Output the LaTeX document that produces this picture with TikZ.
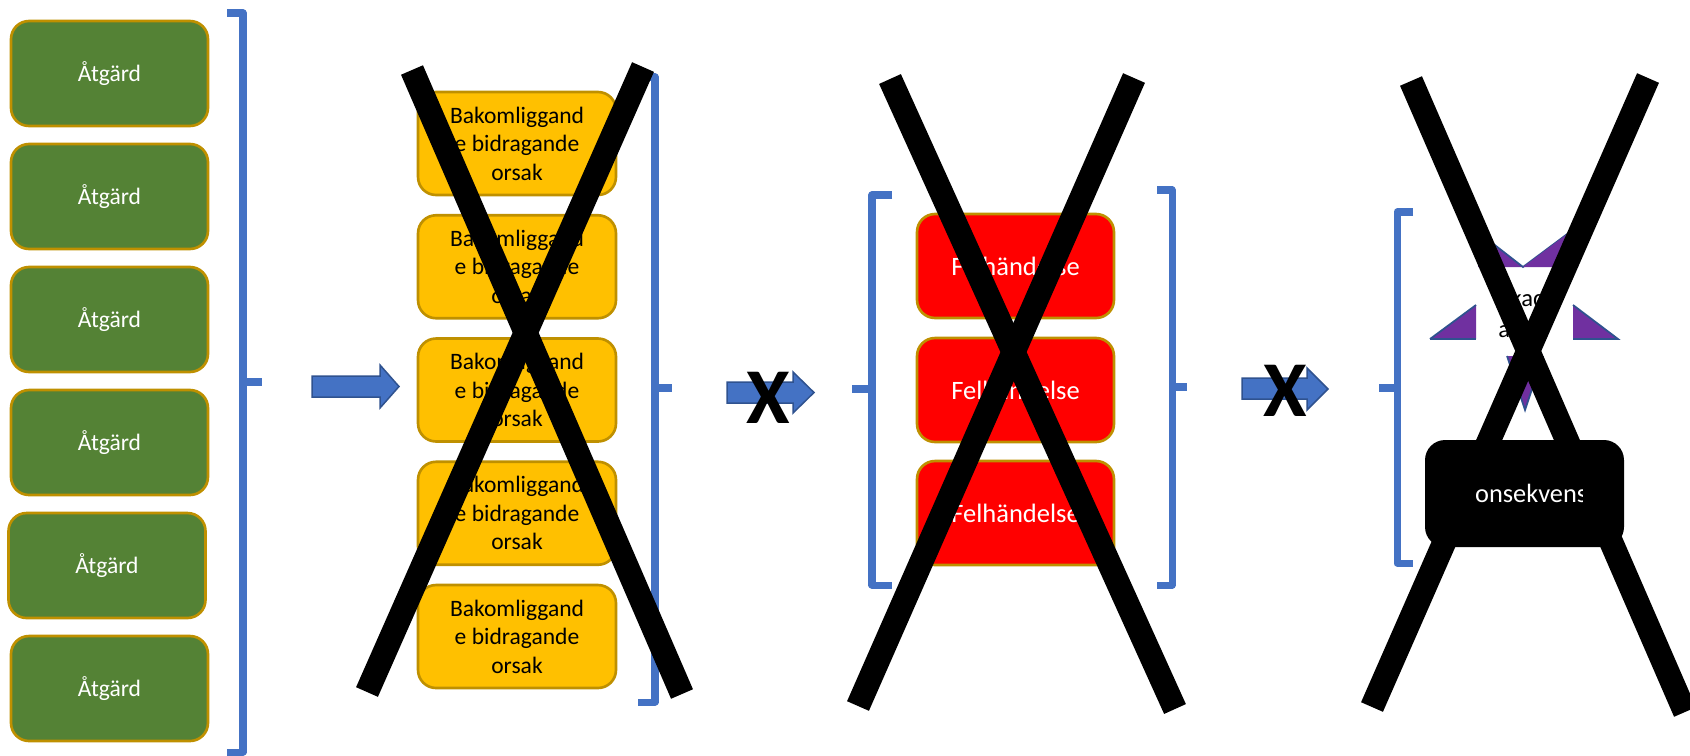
\documentclass[tikz,border=0pt]{standalone}
\usepackage{fontspec}
\setmainfont{Carlito}
\begin{document}
\definecolor{leafgreen}{HTML}{548235}
\definecolor{goldline}{HTML}{BF9000}
\definecolor{ambery}{HTML}{FFC000}
\definecolor{alarmred}{HTML}{FF0000}
\definecolor{brblue}{HTML}{4472C4}
\definecolor{brbluedark}{HTML}{2F528F}
\definecolor{violet}{HTML}{7030A0}
\begin{tikzpicture}[x=0.02cm,y=-0.02cm,
  basebox/.style={rectangle,rounded corners=0.36cm,line width=1.5pt,draw=goldline,
    inner sep=0pt,align=center},
  gbox/.style={basebox,fill=leafgreen,text=white,minimum width=3.94cm,minimum height=2.1cm,
    font=\fontsize{13.4}{16}\selectfont},
  ybox/.style={basebox,fill=ambery,text=black,minimum width=3.96cm,minimum height=2.06cm,
    font=\fontsize{13.4}{16.2}\selectfont},
  rbox/.style={basebox,fill=alarmred,text=white,minimum width=3.94cm,minimum height=2.08cm,
    font=\fontsize{15.1}{18}\selectfont},
  brace/.style={draw=brblue,line width=4pt,line join=round},
  barrow/.style={fill=brblue,draw=brbluedark,line width=0.85pt,line join=miter},
  cross/.style={draw=black,line width=13.6pt},
  xmark/.style={inner sep=0pt,font=\fontsize{45}{45}\selectfont\bfseries},
  tri/.style={fill=violet},
  triedge/.style={draw=brbluedark,line width=1pt},
  dmg/.style={anchor=base west,inner sep=0pt,font=\fontsize{14}{18}\selectfont}]
\useasboundingbox (0,0) rectangle (1690,755);

% --- actions (green column) ---
\node[gbox] (a1) at (109.5,73.5) {Åtgärd};
\node[gbox] (a2) at (109.5,196.5) {Åtgärd};
\node[gbox] (a3) at (109.5,319.5) {Åtgärd};
\node[gbox] (a4) at (109.5,442.5) {Åtgärd};
\node[gbox] (a5) at (107,565.5) {Åtgärd};
\node[gbox] (a6) at (109.5,688.5) {Åtgärd};

% bracket grouping the actions
\draw[brace] (227,13) -- (243,13) -- (243,752) -- (227,752);
\draw[brace] (243,382) -- (262,382);

% arrow towards the causes
\draw[barrow] (312,376) -- (380,376) -- (380,365) -- (399,386.5) -- (380,408) -- (380,397) -- (312,397) -- cycle;

% --- underlying contributing causes (yellow column) ---
\node[ybox] (c1) at (517,143.5) {Bakomliggand\\e bidragande\\orsak};
\node[ybox] (c2) at (517,266.75) {Bakomliggand\\e bidragande\\orsak};
\node[ybox] (c3) at (517,390) {Bakomliggand\\e bidragande\\orsak};
\node[ybox] (c4) at (517,513.25) {Bakomliggand\\e bidragande\\orsak};
\node[ybox] (c5) at (517,636.5) {Bakomliggand\\e bidragande\\orsak};

\draw[brace] (640,77) -- (655,77) -- (655,702) -- (638,702);
\draw[brace] (655,388) -- (672,388);

\draw[cross] (412,70) -- (682,694);
\draw[cross] (643,67) -- (367,692);

% blocked arrow towards the incidents
\draw[barrow] (727,382) -- (793,382) -- (793,372) -- (814,392.5) -- (793,413) -- (793,403) -- (727,403) -- cycle;
\node[xmark] (x1) at (768,398) {X};

% --- incidents (red column) ---
\draw[brace] (892,195) -- (872,195) -- (872,585) -- (892,585);
\draw[brace] (872,389) -- (852,389);

\node[rbox] (f1) at (1015.5,266) {Felhändelse};
\node[rbox] (f2) at (1015.5,390) {Felhändelse};
\node[rbox] (f3) at (1015.5,513) {Felhändelse};

\draw[brace] (1157,190) -- (1172,190) -- (1172,585) -- (1157,585);
\draw[brace] (1172,387) -- (1187,387);

\draw[cross] (890,79) -- (1175,709);
\draw[cross] (1134,78) -- (858,706);

% blocked arrow towards the consequence
\draw[barrow] (1242,378) -- (1307,378) -- (1307,368) -- (1328,389) -- (1307,410) -- (1307,399) -- (1242,399) -- cycle;
\node[xmark] (x2) at (1285,391) {X};

% --- consequence ---
\draw[brace] (1413,212) -- (1397,212) -- (1397,563) -- (1413,563);
\draw[brace] (1397,388) -- (1379,388);

% star points around the damage label
\fill[tri] (1478,232) -- (1523,267) -- (1478,267) -- cycle;
\draw[triedge] (1478,232) -- (1523,267) -- (1578,226);
\fill[tri] (1523,267) -- (1578,226) -- (1578,267) -- cycle;
\fill[tri] (1430,339) -- (1476,305) -- (1476,339) -- cycle;
\draw[triedge] (1430,339) -- (1476,305);
\draw[triedge] (1430,339) -- (1476,339);
\fill[tri] (1573,305) -- (1618,339) -- (1573,339) -- cycle;
\draw[triedge] (1573,305) -- (1618,339) -- (1573,339);
\fill[tri] (1507,356) -- (1525,410) -- (1543,356) -- cycle;
\draw[triedge] (1507,356) -- (1525,410) -- (1543,356);

\node[dmg] (s1) at (1499,306) {Skada};
\node[dmg] (s2) at (1498,337) {a};

\draw[cross] (1411,81) -- (1685,712);
\draw[cross] (1648,78) -- (1372,707);

\node[rectangle,rounded corners=0.4cm,fill=black,minimum width=3.98cm,minimum height=2.14cm,
  inner sep=0pt] (k1) at (1524.5,493.5) {};
\begin{scope}
  \clip (1476,440) rectangle (1582,547);
  \node[text=white,inner sep=0pt,font=\fontsize{15}{18}\selectfont] (k1t) at (k1.center) {Konsekvens};
\end{scope}
\end{tikzpicture}
\end{document}
